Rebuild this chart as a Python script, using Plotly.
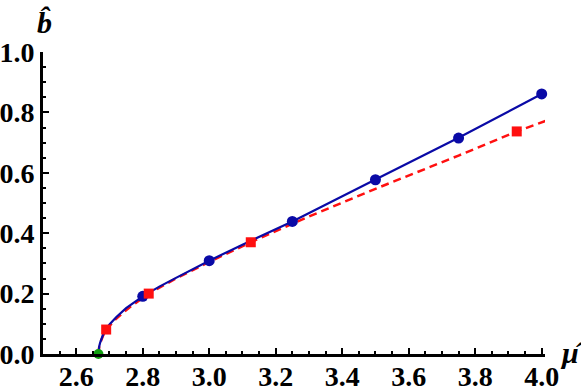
import plotly.graph_objects as go

# curva azul (solida) e pontos
mu_azul = [2.6667, 2.6672, 2.669, 2.672, 2.676, 2.68, 2.69, 2.70, 2.72, 2.75, 2.8, 2.85, 2.9, 2.95, 3.0, 3.1, 3.25, 3.5, 3.75, 4.0]
b_azul = [0.0, 0.012, 0.025, 0.038, 0.051, 0.062, 0.083, 0.098, 0.122, 0.152, 0.191, 0.223, 0.252, 0.281, 0.309, 0.362, 0.439, 0.578, 0.716, 0.861]
mu_pts_azul = [2.8, 3.0, 3.25, 3.5, 3.75, 4.0]
b_pts_azul = [0.191, 0.309, 0.439, 0.577, 0.715, 0.861]

# curva vermelha (tracejada) e pontos
mu_verm = [2.6667, 2.6672, 2.669, 2.672, 2.676, 2.68, 2.69, 2.70, 2.72, 2.76, 2.818, 2.9, 3.0, 3.125, 3.3, 3.5, 3.75, 3.925, 4.02]
b_verm = [0.0, 0.011, 0.023, 0.036, 0.049, 0.059, 0.081, 0.094, 0.117, 0.154, 0.2, 0.25, 0.305, 0.37, 0.455, 0.547, 0.657, 0.737, 0.775]
mu_pts_verm = [2.69, 2.818, 3.125, 3.925]
b_pts_verm = [0.081, 0.2, 0.37, 0.737]

# ponto critico
mu_crit = [2.6667]
b_crit = [0.0]

azul = "#0A0AA6"
verm = "#FF1010"
serif = "'Liberation Serif', serif"

fig = go.Figure()
fig.add_trace(go.Scatter(x=mu_verm, y=b_verm, mode="lines",
                         line=dict(color=verm, width=2.5, dash="8px,5px"),
                         cliponaxis=False))
fig.add_trace(go.Scatter(x=mu_azul, y=b_azul, mode="lines",
                         line=dict(color=azul, width=2.2),
                         cliponaxis=False))
fig.add_trace(go.Scatter(x=mu_pts_azul, y=b_pts_azul, mode="markers",
                         marker=dict(color=azul, size=11, symbol="circle"),
                         cliponaxis=False))
fig.add_trace(go.Scatter(x=mu_pts_verm, y=b_pts_verm, mode="markers",
                         marker=dict(color=verm, size=10, symbol="square"),
                         cliponaxis=False))
fig.add_trace(go.Scatter(x=mu_crit, y=b_crit, mode="markers",
                         marker=dict(color="#10A010", size=10, symbol="circle"),
                         cliponaxis=False))

fonte = dict(family=serif, size=28, color="black")
rotulos_x = ["2.6", "2.8", "3.0", "3.2", "3.4", "3.6", "3.8", "4.0"]
rotulos_y = ["0.0", "0.2", "0.4", "0.6", "0.8", "1.0"]

fig.update_xaxes(range=[2.5, 4.01], tickvals=[2.6, 2.8, 3.0, 3.2, 3.4, 3.6, 3.8, 4.0],
                 ticktext=["<b>" + t + "</b>" for t in rotulos_x],
                 ticks="inside", ticklen=6, tickwidth=2, tickcolor="black",
                 minor=dict(dtick=0.05, tick0=2.5, ticks="inside", ticklen=3, tickwidth=2, tickcolor="black"),
                 showline=True, linecolor="black", linewidth=3, showgrid=False, zeroline=False,
                 tickfont=fonte, automargin=False, ticklabelstandoff=-5)
fig.update_yaxes(range=[0, 1.0], tickvals=[0.0, 0.2, 0.4, 0.6, 0.8, 1.0],
                 ticktext=["<b>" + t + "</b>" for t in rotulos_y],
                 ticks="inside", ticklen=6, tickwidth=2, tickcolor="black",
                 minor=dict(dtick=0.05, tick0=0, ticks="inside", ticklen=3, tickwidth=2, tickcolor="black"),
                 showline=True, linecolor="black", linewidth=3, showgrid=False, zeroline=False,
                 tickfont=fonte, automargin=False)

fig.add_annotation(x=0.0, y=1.0, xref="paper", yref="paper", xanchor="center", yanchor="bottom",
                   xshift=1, yshift=11, text="<b><i>b\u0302</i></b>", showarrow=False,
                   font=dict(family=serif, size=30, color="black"))
fig.add_annotation(x=1.0, y=0.0, xref="paper", yref="paper", xanchor="left", yanchor="middle",
                   xshift=13, yshift=2, text="<b><i>\u03bc\u0302</i></b>", showarrow=False,
                   font=dict(family=serif, size=30, color="black"))

fig.update_layout(width=581, height=392, showlegend=False,
                  plot_bgcolor="white", paper_bgcolor="white",
                  margin=dict(l=43, r=36, t=52, b=38))

fig.write_html("out.html", config={"displayModeBar": False},
               post_script="document.body.style.margin='0';")
